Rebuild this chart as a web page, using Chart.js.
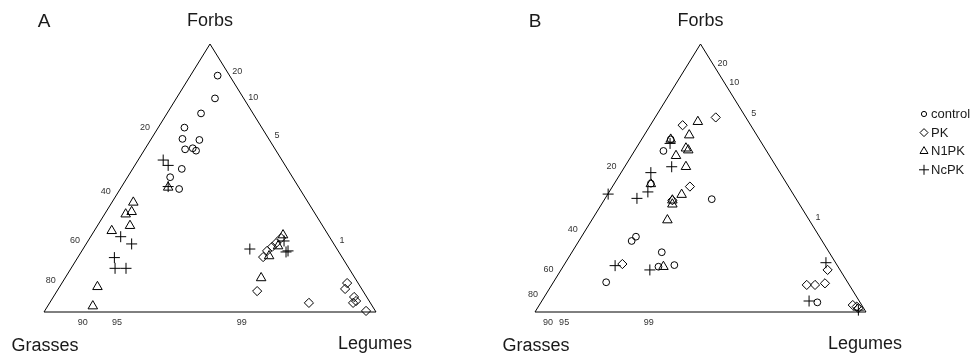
<!DOCTYPE html>
<html><head><meta charset="utf-8">
<script src="https://cdn.jsdelivr.net/npm/chart.js@4.4.0/dist/chart.umd.min.js"></script>
<style>
html,body{margin:0;padding:0;background:#fff;overflow:hidden}
#wrap{position:relative;width:980px;height:353px}
canvas{position:absolute;top:0}
</style></head><body>
<div id="wrap">
<canvas id="cA" width="490" height="353" style="left:0;width:490px;height:353px"></canvas>
<canvas id="cB" width="490" height="353" style="left:490px;width:490px;height:353px"></canvas>
</div>
<script>
// Positions are in the triangle frame: x 0 = Grasses corner, 1 = Legumes corner; y 0 = base, 1 = Forbs apex
const seriesNames = ['control', 'PK', 'N1PK', 'NcPK'];
const cornerLabels = ['Grasses', 'Legumes', 'Forbs'];
const triangleFrame = [[0, 0], [1, 0], [0.5, 1], [0, 0]];

// Panel A
const A_control = [[0.523,0.882],[0.515,0.797],[0.473,0.741],[0.423,0.688],[0.417,0.646],[0.468,0.642],[0.425,0.607],[0.448,0.611],[0.458,0.602],[0.415,0.534],[0.380,0.503],[0.407,0.459]];
const A_PK = [[0.714,0.276],[0.699,0.257],[0.687,0.243],[0.672,0.228],[0.660,0.205],[0.642,0.078],[0.798,0.034],[0.913,0.108],[0.907,0.086],[0.934,0.056],[0.940,0.041],[0.931,0.034],[0.970,0.004]];
const A_N1PK = [[0.374,0.465],[0.269,0.409],[0.264,0.374],[0.246,0.365],[0.259,0.322],[0.204,0.303],[0.161,0.094],[0.147,0.022],[0.720,0.287],[0.678,0.209],[0.654,0.127],[0.705,0.246]];
const A_NcPK = [[0.359,0.567],[0.374,0.547],[0.374,0.468],[0.231,0.281],[0.264,0.254],[0.212,0.203],[0.214,0.163],[0.247,0.163],[0.620,0.235],[0.723,0.265],[0.735,0.228],[0.729,0.224]];
const A_grassTickLabels = ['80','60','40','20'];
const A_grassTickPos = [0.119,0.265,0.451,0.687];
const A_legumeTickLabels = ['90','95','99'];
const A_legumeTickPos = [0.117,0.220,0.596];
const A_forbTickLabels = ['20','10','5','1'];
const A_forbTickPos = [0.896,0.799,0.657,0.265];

// Panel B
const B_control = [[0.410,0.644],[0.388,0.601],[0.350,0.479],[0.534,0.421],[0.305,0.281],[0.292,0.265],[0.383,0.223],[0.421,0.175],[0.373,0.169],[0.215,0.111],[0.853,0.036]];
const B_PK = [[0.546,0.726],[0.446,0.697],[0.468,0.468],[0.415,0.417],[0.264,0.179],[0.884,0.157],[0.821,0.101],[0.846,0.101],[0.876,0.107],[0.960,0.026],[0.972,0.020],[0.977,0.014]];
const B_N1PK = [[0.492,0.710],[0.466,0.660],[0.410,0.644],[0.456,0.611],[0.463,0.604],[0.426,0.583],[0.456,0.542],[0.350,0.478],[0.443,0.438],[0.415,0.417],[0.415,0.402],[0.400,0.343],[0.388,0.169]];
const B_NcPK = [[0.408,0.629],[0.413,0.542],[0.350,0.520],[0.341,0.448],[0.308,0.424],[0.221,0.440],[0.347,0.157],[0.242,0.173],[0.879,0.184],[0.828,0.041],[0.977,0.007]];
const B_grassTickLabels = ['80','60','40','20'];
const B_grassTickPos = [0.067,0.160,0.306,0.541];
const B_legumeTickLabels = ['90','95','99'];
const B_legumeTickPos = [0.039,0.088,0.344];
const B_forbTickLabels = ['20','10','5','1'];
const B_forbTickPos = [0.928,0.856,0.739,0.351];

const FONT = '"Liberation Sans", Arial, Helvetica, sans-serif';
const styles = [
  {pointStyle:'circle', radius:3.4},
  {pointStyle:'rectRot', radius:4.6},
  {pointStyle:'triangle', radius:5.5},
  {pointStyle:'cross', radius:5.5}
];
const toPts = arr => arr.map(p => ({x:p[0], y:p[1]}));

function drawSym(ctx, style, x, y, r){
  ctx.save();
  ctx.strokeStyle = '#000'; ctx.lineWidth = 1;
  ctx.beginPath();
  if (style === 'circle') { ctx.arc(x, y, r, 0, Math.PI*2); }
  else if (style === 'rectRot') { ctx.moveTo(x, y-r); ctx.lineTo(x+r, y); ctx.lineTo(x, y+r); ctx.lineTo(x-r, y); ctx.closePath(); }
  else if (style === 'triangle') { const a=-Math.PI/2; for (let i=0;i<3;i++){ const t=a+i*2*Math.PI/3; const px=x+Math.cos(t)*r, py=y+Math.sin(t)*r; if(i===0) ctx.moveTo(px,py); else ctx.lineTo(px,py);} ctx.closePath(); }
  else { ctx.moveTo(x-r, y); ctx.lineTo(x+r, y); ctx.moveTo(x, y-r); ctx.lineTo(x, y+r); }
  ctx.stroke();
  ctx.restore();
}

function makePanel(id, letter, series, ticks, padLeft, withLegend){
  const textPlugin = {
    id: 'ternaryText',
    afterDraw(chart){
      const ctx = chart.ctx, xs = chart.scales.x, ys = chart.scales.y;
      const P = (a,b) => [xs.getPixelForValue(a), ys.getPixelForValue(b)];
      ctx.save();
      ctx.fillStyle = '#1a1a1a';
      ctx.textBaseline = 'alphabetic';
      // panel letter
      ctx.font = '19px ' + FONT; ctx.textAlign = 'center';
      ctx.fillText(letter, P(0,0)[0], 26.5);
      ctx.font = '18px ' + FONT;
      ctx.fillText(cornerLabels[2], P(0.5,1)[0], 26);
      ctx.fillText(cornerLabels[0], P(0,0)[0] + 1, 351);
      ctx.fillText(cornerLabels[1], P(1,0)[0] - 1, 349);
      // tick labels
      ctx.font = '9px ' + FONT; ctx.fillStyle = '#333'; ctx.textBaseline = 'middle';
      ticks.grass[0].forEach((lab,i) => { const t = ticks.grass[1][i]; const p = P(t/2, t); ctx.textAlign='center'; ctx.fillText(lab, p[0]-13, p[1]); });
      ticks.legume[0].forEach((lab,i) => { const p = P(ticks.legume[1][i], 0); ctx.textAlign='center'; ctx.fillText(lab, p[0], p[1]+11); });
      ticks.forb[0].forEach((lab,i) => { const t = ticks.forb[1][i]; const p = P(1 - t/2, t); ctx.textAlign='center'; ctx.fillText(lab, p[0]+10, p[1]); });
      if (withLegend) {
        ctx.font = '13px ' + FONT; ctx.fillStyle = '#1a1a1a'; ctx.textAlign = 'left'; ctx.textBaseline = 'middle';
        const legR = [2.6, 4, 4.6, 5];
        seriesNames.forEach((n,i) => {
          const y = 114 + i*18.6;
          drawSym(ctx, styles[i].pointStyle, 434, y, legR[i]);
          ctx.fillText(n, 441, y + 0.5);
        });
      }
      ctx.restore();
    }
  };
  const datasets = [{
    type: 'line', label: 'frame', data: toPts(triangleFrame),
    borderColor: '#000', borderWidth: 1, pointRadius: 0, fill: false, tension: 0, clip: false
  }];
  series.forEach((s,i) => datasets.push({
    type: 'scatter', label: seriesNames[i], data: toPts(s),
    pointStyle: styles[i].pointStyle, pointRadius: styles[i].radius,
    borderColor: '#000', backgroundColor: 'rgba(0,0,0,0)', pointBorderWidth: 1, borderWidth: 1, clip: false
  }));
  return new Chart(document.getElementById(id), {
    type: 'scatter',
    data: { datasets },
    options: {
      responsive: false, animation: false, devicePixelRatio: 1,
      layout: { padding: { left: padLeft, right: 114, top: 44, bottom: 41 } },
      scales: {
        x: { type: 'linear', min: 0, max: 1, display: false },
        y: { type: 'linear', min: 0, max: 1, display: false }
      },
      plugins: { legend: { display: false }, tooltip: { enabled: false } },
      elements: { point: { hoverRadius: 0 } }
    },
    plugins: [textPlugin]
  });
}

makePanel('cA', 'A', [A_control, A_PK, A_N1PK, A_NcPK],
  { grass:[A_grassTickLabels, A_grassTickPos], legume:[A_legumeTickLabels, A_legumeTickPos], forb:[A_forbTickLabels, A_forbTickPos] }, 44, false);
makePanel('cB', 'B', [B_control, B_PK, B_N1PK, B_NcPK],
  { grass:[B_grassTickLabels, B_grassTickPos], legume:[B_legumeTickLabels, B_legumeTickPos], forb:[B_forbTickLabels, B_forbTickPos] }, 45, true);
</script>
</body></html>
